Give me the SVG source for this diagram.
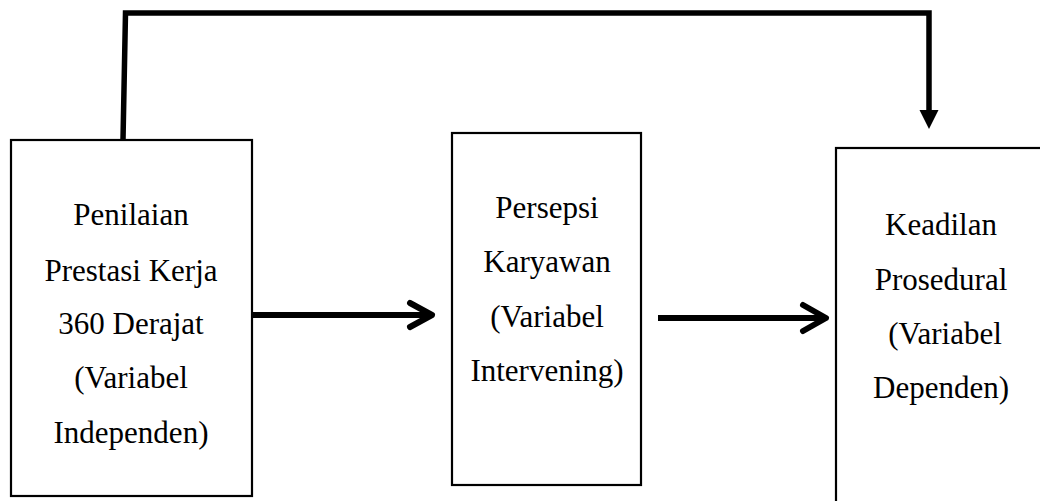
<svg xmlns="http://www.w3.org/2000/svg" width="1040" height="501" viewBox="0 0 1040 501">
  <style>
    .box { fill: #ffffff; stroke: #000000; stroke-width: 2.2; }
    .label { font-family: "Liberation Serif", "Times New Roman", serif; font-size: 31px; fill: #000000; text-anchor: middle; }
    .wire { fill: none; stroke: #000000; stroke-width: 5.5; stroke-linejoin: miter; }
    .shaft { fill: none; stroke: #000000; stroke-width: 6; stroke-linecap: butt; }
    .chevron { fill: none; stroke: #000000; stroke-width: 6; stroke-linecap: round; stroke-linejoin: round; }
  </style>

  <rect width="1040" height="501" fill="#ffffff"/>

  <!-- connectors -->
  <g id="connectors">
    <!-- feedback line over the top into the dependent variable -->
    <polyline class="wire" points="123,140 125.5,13 929,13 929,112"/>
    <polygon points="919.5,110 938.5,110 929,129" fill="#000000"/>
    <!-- independent -> intervening -->
    <line class="shaft" x1="253" y1="315" x2="430" y2="315"/>
    <polyline class="chevron" points="410,303 432,315 410,327"/>
    <!-- intervening -> dependent -->
    <line class="shaft" x1="658" y1="318" x2="825" y2="318"/>
    <polyline class="chevron" points="803,305 826,318 803,331"/>
  </g>

  <!-- independent variable -->
  <g id="node-independen">
    <rect class="box" x="11" y="140" width="241" height="356"/>
    <text class="label" x="131" y="225">Penilaian</text>
    <text class="label" x="131" y="281">Prestasi Kerja</text>
    <text class="label" x="131" y="334">360 Derajat</text>
    <text class="label" x="131" y="388">(Variabel</text>
    <text class="label" x="131" y="443">Independen)</text>
  </g>

  <!-- intervening variable -->
  <g id="node-intervening">
    <rect class="box" x="452" y="133" width="189" height="352"/>
    <text class="label" x="547" y="218">Persepsi</text>
    <text class="label" x="547" y="272">Karyawan</text>
    <text class="label" x="547" y="327">(Variabel</text>
    <text class="label" x="547" y="381">Intervening)</text>
  </g>

  <!-- dependent variable -->
  <g id="node-dependen">
    <rect class="box" x="836" y="148" width="220" height="370"/>
    <text class="label" x="941" y="235">Keadilan</text>
    <text class="label" x="941" y="290">Prosedural</text>
    <text class="label" x="945" y="344">(Variabel</text>
    <text class="label" x="941" y="398">Dependen)</text>
  </g>
</svg>
